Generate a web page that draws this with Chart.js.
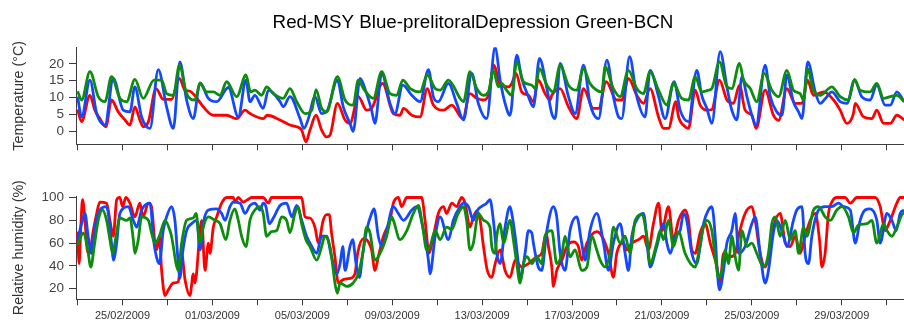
<!DOCTYPE html>
<html>
<head>
<meta charset="utf-8">
<script src="https://cdn.jsdelivr.net/npm/chart.js@4.4.1/dist/chart.umd.min.js"></script>
<style>
  html, body { margin: 0; padding: 0; background: #fff; }
  #wrap { position: relative; width: 904px; height: 323px; }
  #wrap canvas { position: absolute; left: 0; }
  #chart_temp { top: 0; }
  #chart_rh { top: 160px; }
</style>
</head>
<body>
<div id="wrap">
  <canvas id="chart_temp" width="904" height="160"></canvas>
  <canvas id="chart_rh" width="904" height="163"></canvas>
</div>
<script>
// day 0 = 23/02/2009 00:00, x values are days from there
const startDay = Date.UTC(2009, 1, 23);
const dayTicks = [0, 2, 4, 6, 8, 10, 12, 14, 16, 18, 20, 22, 24, 26, 28, 30, 32, 34, 36];
const tempTicks = [0, 5, 10, 15, 20];
const rhTicks = [20, 40, 60, 80, 100];
const chartTitle = 'Red-MSY Blue-prelitoralDepression Green-BCN';

// [day, °C]
const msyTemp = [[0,6.5],[0.18,2.9],[0.55,10.7],[0.77,6.3],[0.99,3.8],[1.26,1.4],[1.51,9.3],[1.81,5.8],[2.11,3.4],[2.33,1.9],[2.55,7.3],[2.77,3.4],[2.92,1.4],[3.15,2.9],[3.49,12.7],[3.81,9.5],[4.18,9.5],[4.53,15.7],[4.78,12.2],[5.0,11.9],[5.37,9.3],[5.59,7.3],[6.04,4.8],[6.34,4.8],[6.63,4.8],[7.08,3.8],[7.45,6.3],[7.67,5.3],[8.26,3.8],[8.44,4.8],[9.01,3.4],[9.45,1.9],[9.75,1.4],[9.97,0.4],[10.16,-3.1],[10.34,0.4],[10.61,4.8],[10.86,0.4],[11.08,-1.6],[11.23,-1.1],[11.56,8.3],[11.9,3.4],[12.12,2.4],[12.49,10.3],[12.86,6.3],[13.08,6.8],[13.57,14.2],[14.05,5.3],[14.35,4.8],[14.5,6.8],[14.87,4.8],[15.24,4.3],[15.56,12.7],[15.83,7.8],[16.28,6.3],[16.65,7.8],[17.14,3.8],[17.46,11.2],[17.76,9.8],[18.06,9.3],[18.28,10.7],[18.53,19.6],[18.8,13.7],[19.17,13.2],[19.32,14.2],[19.51,17.2],[19.76,11.7],[20.06,10.7],[20.28,8.8],[20.5,15.2],[20.8,11.2],[21.02,9.3],[21.1,10.7],[21.47,12.7],[21.84,7.3],[22.21,3.8],[22.51,12.7],[22.95,6.8],[23.18,6.8],[23.52,14.7],[23.99,9.3],[24.21,9.3],[24.51,15.7],[24.88,10.7],[25.18,8.3],[25.47,12.7],[25.85,4.3],[26.07,0.9],[26.29,0.9],[26.62,8.8],[26.74,4.3],[27.03,1.4],[27.18,0.9],[27.48,12.2],[27.7,7.8],[28.0,6.3],[28.22,6.5],[28.56,15.2],[28.89,9.3],[29.18,8.3],[29.45,13.7],[29.7,6.3],[30.0,4.8],[30.19,0.9],[30.59,12.2],[30.96,4.8],[31.19,3.3],[31.56,12.7],[31.93,8.3],[32.23,8.3],[32.48,15.2],[32.74,10.7],[33.19,11.7],[33.64,9.3],[33.93,6.3],[34.23,2.4],[34.52,5.3],[34.6,8.3],[34.97,4.3],[35.34,3.8],[35.56,6.3],[35.86,2.4],[36.16,2.4],[36.45,4.8],[36.78,3.4]];
const prelitoralTemp = [[0,10.3],[0.18,4.3],[0.55,15.2],[0.85,5.3],[1.22,1.9],[1.59,15.7],[2.03,6.3],[2.33,5.8],[2.55,13.2],[2.85,4.3],[3.22,0.9],[3.59,18.3],[3.96,7.3],[4.26,0.9],[4.55,20.6],[4.85,9.3],[5.15,3.8],[5.45,14.4],[5.82,9.8],[6.19,8.8],[6.71,13.0],[7.15,4.3],[7.49,15.2],[7.67,8.8],[7.89,10.7],[8.26,6.8],[8.49,12.2],[9.01,8.8],[9.15,7.3],[9.45,10.3],[9.9,3.8],[10.07,0.9],[10.27,3.8],[10.56,10.3],[10.86,5.3],[11.08,5.8],[11.56,15.2],[11.82,7.3],[12.12,2.4],[12.26,0.0],[12.57,15.7],[12.86,11.2],[13.08,6.3],[13.23,2.4],[13.53,17.2],[13.9,8.3],[14.12,5.3],[14.47,13.7],[14.87,10.7],[15.24,8.8],[15.61,18.3],[15.83,10.3],[16.05,8.8],[16.5,14.2],[16.87,8.3],[17.17,3.4],[17.54,17.2],[17.83,8.3],[18.2,3.8],[18.58,25.0],[18.8,15.2],[19.02,8.3],[19.24,4.8],[19.54,22.6],[19.76,15.7],[20.06,10.3],[20.28,7.3],[20.55,21.6],[20.88,12.7],[21.1,5.3],[21.25,3.8],[21.47,20.1],[21.84,10.3],[22.14,5.3],[22.51,19.6],[22.8,8.3],[22.95,5.3],[23.18,3.8],[23.55,21.1],[23.84,10.3],[24.07,4.3],[24.21,3.8],[24.56,22.1],[24.88,10.3],[25.25,4.3],[25.47,18.1],[25.85,10.3],[26.14,3.8],[26.54,14.7],[26.81,6.3],[27.18,2.9],[27.55,18.1],[27.77,10.7],[28.0,6.8],[28.22,2.4],[28.59,23.6],[28.89,13.2],[29.11,6.3],[29.33,3.4],[29.56,16.2],[29.78,10.3],[30.0,4.8],[30.19,1.9],[30.59,19.6],[30.82,10.3],[31.11,5.8],[31.34,4.8],[31.56,16.7],[31.85,8.8],[32.08,5.8],[32.23,3.8],[32.49,20.6],[32.82,11.7],[33.04,8.3],[33.34,10.3],[33.56,11.7],[33.93,8.8],[34.23,8.3],[34.57,15.2],[34.89,10.3],[35.26,9.3],[35.56,13.7],[35.93,7.8],[36.16,7.8],[36.45,11.7],[36.78,8.8]];
const bcnTemp = [[0,11.9],[0.18,9.3],[0.55,17.7],[0.92,10.3],[1.22,8.8],[1.51,16.2],[1.88,9.8],[2.18,8.8],[2.55,15.4],[2.92,9.8],[3.4,15.2],[3.74,15.2],[3.96,11.2],[4.26,10.7],[4.53,19.6],[4.85,11.2],[5.22,9.3],[5.45,14.2],[5.74,11.7],[6.04,11.7],[6.34,10.7],[6.63,14.7],[7.08,10.3],[7.49,16.7],[7.7,11.7],[7.89,12.2],[8.19,10.7],[8.41,13.2],[8.71,11.2],[9.15,9.8],[9.45,12.7],[9.75,8.8],[10.12,5.3],[10.42,6.3],[10.61,12.4],[10.86,6.8],[11.08,5.8],[11.56,16.2],[11.9,9.3],[12.26,7.8],[12.49,15.2],[12.72,12.7],[13.16,9.8],[13.53,17.7],[13.9,11.2],[14.2,10.7],[14.47,15.2],[14.8,12.7],[15.24,11.7],[15.56,16.7],[15.91,12.7],[16.13,12.2],[16.5,15.2],[17.02,9.8],[17.17,8.8],[17.46,17.7],[17.76,12.7],[18.06,10.7],[18.28,11.7],[18.5,18.1],[18.72,13.2],[18.87,14.2],[19.09,12.2],[19.32,10.7],[19.54,20.6],[19.84,14.7],[20.21,13.7],[20.36,12.7],[20.55,18.6],[20.88,13.7],[21.17,11.7],[21.47,19.6],[21.84,13.7],[22.21,12.2],[22.51,18.6],[22.8,14.2],[23.1,12.2],[23.33,11.7],[23.47,19.1],[23.84,12.7],[24.14,10.3],[24.51,18.1],[24.88,12.7],[25.18,11.2],[25.47,17.7],[25.85,12.2],[26.22,7.8],[26.51,14.2],[26.59,13.7],[26.88,9.8],[27.18,9.3],[27.48,16.2],[27.77,11.7],[28.07,12.2],[28.22,12.7],[28.56,20.6],[28.89,13.2],[29.11,12.7],[29.45,20.1],[29.63,15.2],[29.93,12.7],[30.22,8.8],[30.55,17.2],[30.89,12.2],[31.19,10.3],[31.56,18.1],[31.85,12.2],[32.15,11.2],[32.3,9.3],[32.48,18.6],[32.74,12.2],[33.04,10.7],[33.56,13.2],[33.93,10.3],[34.3,9.3],[34.57,15.4],[34.82,12.2],[35.26,11.7],[35.56,14.2],[35.86,9.8],[36.16,10.3],[36.45,10.7],[36.78,8.8]];

// [day, %]
const msyRh = [[0,70],[0.07,42],[0.15,77],[0.22,98],[0.33,80],[0.43,54],[0.52,51],[0.7,71],[0.85,86],[0.99,96],[1.29,95],[1.44,80],[1.59,66],[1.74,98],[1.88,100],[2.0,92],[2.15,100],[2.33,95],[2.55,83],[2.77,95],[2.92,83],[3.15,95],[3.29,92],[3.44,60],[3.52,54],[3.64,66],[3.74,36],[3.89,14],[4.04,19],[4.26,25],[4.48,26],[4.63,51],[4.78,28],[5.0,14],[5.15,33],[5.22,25],[5.52,80],[5.67,36],[5.82,60],[5.89,51],[6.04,74],[6.19,83],[6.41,95],[6.63,100],[6.93,100],[7.0,96],[7.15,100],[7.37,96],[7.56,98],[7.74,100],[8.26,100],[8.49,95],[8.63,100],[9.97,100],[10.12,83],[10.34,82],[10.56,74],[10.71,60],[10.93,80],[11.08,85],[11.2,85],[11.3,69],[11.45,48],[11.6,25],[11.82,28],[12.12,29],[12.34,33],[12.47,52],[12.72,64],[12.86,63],[13.08,54],[13.23,36],[13.38,48],[13.61,66],[13.9,80],[14.05,95],[14.27,100],[14.42,92],[14.65,100],[15.31,100],[15.46,80],[15.64,51],[15.83,66],[16.05,86],[16.28,92],[16.42,86],[16.65,95],[16.87,92],[17.02,98],[17.09,100],[17.24,95],[17.46,74],[17.61,83],[17.76,88],[17.91,80],[18.06,57],[18.23,36],[18.43,30],[18.58,42],[18.8,54],[19.02,36],[19.24,30],[19.47,45],[19.76,39],[20.06,42],[20.43,48],[20.65,51],[20.85,69],[20.95,57],[21.1,39],[21.17,22],[21.32,36],[21.55,45],[21.77,57],[22.06,61],[22.28,57],[22.43,45],[22.66,60],[23.1,70],[23.33,66],[23.62,51],[23.84,30],[23.99,51],[24.29,60],[24.44,54],[24.66,60],[24.96,63],[25.18,66],[25.4,54],[25.62,77],[25.85,95],[26.0,71],[26.29,92],[26.51,63],[26.74,80],[27.03,89],[27.18,80],[27.33,54],[27.48,51],[27.7,69],[27.92,77],[28.15,60],[28.45,39],[28.59,25],[28.74,51],[29.04,48],[29.26,51],[29.41,66],[29.7,86],[30.0,92],[30.15,80],[30.37,51],[30.59,39],[30.82,57],[30.96,74],[31.26,86],[31.49,60],[31.71,57],[31.93,66],[32.15,51],[32.37,66],[32.6,80],[32.82,86],[33.01,63],[33.12,39],[33.26,51],[33.41,86],[33.56,96],[33.78,100],[34.15,100],[34.38,95],[34.67,100],[35.26,100],[35.49,100],[35.71,92],[35.93,71],[36.16,80],[36.45,95],[36.6,100],[36.78,100]];
const prelitoralRh = [[0,63],[0.18,77],[0.33,86],[0.47,66],[0.62,51],[0.77,74],[0.99,89],[1.29,92],[1.51,60],[1.59,45],[1.74,60],[1.88,86],[2.26,92],[2.48,80],[2.63,74],[2.85,89],[3.22,95],[3.4,60],[3.55,45],[3.64,42],[3.81,71],[3.96,83],[4.18,92],[4.33,80],[4.48,42],[4.55,29],[4.67,51],[4.85,71],[5.07,77],[5.3,80],[5.45,54],[5.62,80],[5.82,89],[6.19,90],[6.41,86],[6.56,80],[6.78,92],[6.93,96],[7.23,95],[7.45,86],[7.67,93],[7.89,95],[8.12,89],[8.26,95],[8.38,92],[8.53,77],[8.71,82],[9.01,93],[9.3,95],[9.53,83],[9.75,93],[9.97,80],[10.19,66],[10.42,57],[10.64,51],[10.86,66],[11.08,66],[11.3,48],[11.53,33],[11.68,42],[11.8,57],[11.9,36],[12.12,57],[12.24,63],[12.39,42],[12.54,30],[12.69,51],[12.86,71],[13.08,86],[13.19,90],[13.38,66],[13.53,57],[13.75,71],[14.05,92],[14.27,86],[14.5,80],[14.87,89],[15.09,92],[15.39,71],[15.61,45],[15.68,33],[15.91,66],[16.13,83],[16.5,63],[16.72,80],[17.02,92],[17.17,95],[17.39,92],[17.61,80],[17.76,88],[18.2,95],[18.35,98],[18.5,80],[18.65,51],[18.8,42],[19.02,74],[19.24,92],[19.32,86],[19.47,66],[19.61,42],[19.69,28],[19.91,51],[20.06,71],[20.21,69],[20.28,60],[20.5,39],[20.65,36],[20.88,71],[21.17,92],[21.32,83],[21.47,51],[21.69,36],[21.91,71],[22.21,83],[22.43,60],[22.58,45],[22.8,71],[23.1,86],[23.4,60],[23.62,36],[23.84,60],[24.14,77],[24.36,51],[24.51,36],[24.66,66],[24.96,83],[25.18,86],[25.4,48],[25.47,39],[25.77,57],[26.07,77],[26.22,60],[26.37,51],[26.59,66],[26.81,71],[26.96,86],[27.1,80],[27.33,51],[27.55,42],[27.7,57],[27.85,77],[28.07,89],[28.22,92],[28.37,66],[28.45,39],[28.56,19],[28.74,36],[28.89,60],[29.11,71],[29.26,86],[29.41,51],[29.7,57],[30.0,77],[30.15,83],[30.37,51],[30.59,25],[30.74,36],[30.96,69],[31.11,80],[31.41,66],[31.56,57],[31.85,80],[32.0,89],[32.23,92],[32.37,51],[32.52,42],[32.67,66],[32.97,89],[33.26,92],[33.56,92],[33.86,95],[34.08,92],[34.38,89],[34.6,60],[34.82,80],[35.04,89],[35.26,90],[35.56,80],[35.71,60],[36.01,86],[36.23,80],[36.42,71],[36.6,86],[36.78,89]];
const bcnRh = [[0,58],[0.15,66],[0.25,69],[0.43,57],[0.59,39],[0.74,57],[0.92,80],[1.11,89],[1.29,80],[1.44,63],[1.56,51],[1.71,66],[1.88,82],[2.18,80],[2.33,82],[2.48,63],[2.55,51],[2.7,63],[2.85,83],[3.15,80],[3.29,69],[3.44,60],[3.64,66],[3.89,80],[4.11,71],[4.18,66],[4.26,57],[4.38,42],[4.48,36],[4.63,60],[4.85,80],[5.15,82],[5.27,86],[5.45,60],[5.59,74],[5.82,83],[6.11,80],[6.34,77],[6.6,63],[6.78,80],[7.0,90],[7.15,80],[7.3,66],[7.49,57],[7.67,80],[7.89,89],[8.12,92],[8.26,86],[8.41,66],[8.63,70],[8.86,71],[9.08,83],[9.3,80],[9.45,69],[9.67,86],[9.82,92],[9.97,77],[10.16,63],[10.34,57],[10.64,45],[10.86,57],[11.0,66],[11.23,57],[11.38,36],[11.45,25],[11.56,16],[11.68,25],[11.97,22],[12.26,25],[12.49,33],[12.69,51],[12.86,74],[13.01,69],[13.23,45],[13.53,54],[13.75,66],[13.98,83],[14.05,80],[14.35,63],[14.65,71],[14.94,86],[15.16,93],[15.36,74],[15.53,54],[15.68,57],[15.91,71],[16.13,63],[16.42,74],[16.65,72],[16.87,83],[17.02,89],[17.17,92],[17.31,80],[17.46,54],[17.61,60],[17.83,86],[18.06,80],[18.35,74],[18.43,57],[18.58,51],[18.65,66],[18.8,77],[18.95,60],[19.24,80],[19.39,63],[19.54,42],[19.69,25],[19.84,42],[19.99,48],[20.21,42],[20.43,48],[20.65,42],[20.8,66],[21.1,71],[21.32,42],[21.55,51],[21.69,66],[21.91,48],[22.14,54],[22.43,36],[22.66,39],[22.88,66],[23.1,54],[23.25,45],[23.47,39],[23.69,51],[23.84,74],[24.14,60],[24.36,66],[24.58,51],[24.81,80],[25.1,85],[25.33,66],[25.47,42],[25.77,60],[25.92,71],[26.07,63],[26.29,80],[26.51,57],[26.74,70],[27.03,51],[27.48,39],[27.63,51],[27.85,74],[28.0,80],[28.22,71],[28.37,48],[28.52,30],[28.67,36],[28.82,54],[28.96,42],[29.11,66],[29.26,48],[29.41,36],[29.56,71],[29.78,57],[30.0,60],[30.22,51],[30.52,39],[30.74,51],[30.89,77],[31.04,83],[31.26,66],[31.49,80],[31.71,63],[31.93,71],[32.08,51],[32.3,74],[32.45,66],[32.74,89],[32.97,92],[33.26,83],[33.49,80],[33.78,89],[34.01,92],[34.3,83],[34.52,69],[34.75,76],[35.12,77],[35.34,80],[35.56,60],[35.86,77],[36.01,71],[36.23,66],[36.45,74],[36.75,86],[36.78,86]];

const FONT = 'Arial, "Liberation Sans", sans-serif';
const AXIS = '#3c3c3c';

function dateLabel(v) {
    if (v % 4 !== 2) return '';
    const d = new Date(startDay + v * 86400000);
    const p = n => (n < 10 ? '0' : '') + n;
    return p(d.getUTCDate()) + '/' + p(d.getUTCMonth() + 1) + '/' + d.getUTCFullYear();
}

function lineSet(data, color, order) {
    return {
        data: data, borderColor: color, borderWidth: 2.8, pointRadius: 0,
        cubicInterpolationMode: 'monotone', borderJoinStyle: 'round', order: order
    };
}

function xAxis(showLabels, height) {
    return {
        type: 'linear', min: -0.07, max: 36.77,
        afterBuildTicks: s => { s.ticks = dayTicks.map(v => ({ value: v })); },
        afterFit: s => { s.height = height; },
        grid: { drawOnChartArea: false, drawTicks: true, tickLength: 6, color: AXIS },
        border: { display: true, color: AXIS },
        ticks: {
            autoSkip: false, maxRotation: 0, minRotation: 0, padding: 4,
            color: '#333', font: { family: FONT, size: 11 },
            callback: v => showLabels ? dateLabel(v) : ''
        }
    };
}

function yAxis(title, min, max, ticks) {
    return {
        type: 'linear', min: min, max: max,
        afterBuildTicks: s => { s.ticks = ticks.map(v => ({ value: v })); },
        afterFit: s => { s.width = 76; },
        grid: { drawOnChartArea: false, drawTicks: true, tickLength: 7, color: AXIS },
        border: { display: true, color: AXIS },
        ticks: { padding: 5, color: '#444', font: { family: FONT, size: 13.5 } },
        title: { display: true, text: title, color: '#333', font: { family: FONT, size: 14.3 }, padding: { top: 10, bottom: 0 } }
    };
}

const setting = {
    responsive: false,
    animation: false,
    events: [],
    plugins: { legend: { display: false }, tooltip: { enabled: false } }
};

// title drawn at the spot the original has it
const titlePlugin = {
    id: 'plotTitle',
    afterDraw(chart) {
        const c = chart.ctx;
        c.save();
        c.font = '18.8px ' + FONT;
        c.fillStyle = '#000';
        c.textAlign = 'center';
        c.textBaseline = 'alphabetic';
        c.fillText(chartTitle, 473, 28);
        c.restore();
    }
};

new Chart(document.getElementById('chart_temp'), {
    type: 'line',
    data: {
        datasets: [
            lineSet(msyTemp, '#ff0000', 3),
            lineSet(prelitoralTemp, '#1448ff', 2),
            lineSet(bcnTemp, '#0e8c0e', 1)
        ]
    },
    options: Object.assign({}, setting, {
        layout: { padding: { top: 47.3, left: 0, right: 0, bottom: 0 } },
        scales: { x: xAxis(false, 15.7), y: yAxis('Temperature (°C)', -3.8, 24.9, tempTicks) }
    }),
    plugins: [titlePlugin]
});

new Chart(document.getElementById('chart_rh'), {
    type: 'line',
    data: {
        datasets: [
            lineSet(msyRh, '#ff0000', 3),
            lineSet(prelitoralRh, '#1448ff', 2),
            lineSet(bcnRh, '#0e8c0e', 1)
        ]
    },
    options: Object.assign({}, setting, {
        layout: { padding: { top: 36, left: 0, right: 0, bottom: 0 } },
        scales: { x: xAxis(true, 23.7), y: yAxis('Relative humidity (%)', 10.7, 101.3, rhTicks) }
    })
});
</script>
</body>
</html>
